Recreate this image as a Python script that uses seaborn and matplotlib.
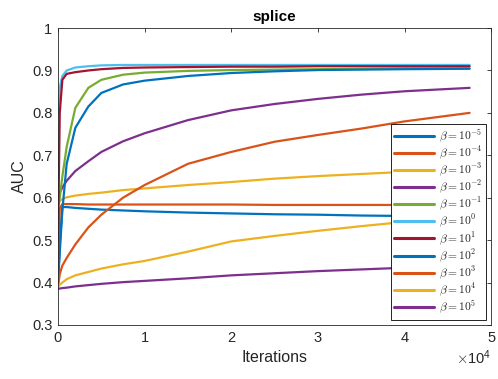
import numpy as np
import pandas as pd
import seaborn as sns
import matplotlib
matplotlib.use('Agg')
import matplotlib.pyplot as plt

# ---------------------------
# Data
# ---------------------------
iters = [0, 0.02, 0.05, 0.1, 0.2, 0.35, 0.5, 0.75, 1, 1.5, 2, 2.5, 3, 3.5, 4, 4.75]  # x 1e4

beta_labels = [r'$\beta = 10^{-5}$', r'$\beta = 10^{-4}$', r'$\beta = 10^{-3}$',
               r'$\beta = 10^{-2}$', r'$\beta = 10^{-1}$', r'$\beta = 10^{0}$',
               r'$\beta = 10^{1}$', r'$\beta = 10^{2}$', r'$\beta = 10^{3}$',
               r'$\beta = 10^{4}$', r'$\beta = 10^{5}$']

auc_m5 = [0.40, 0.49, 0.578, 0.578, 0.576, 0.574, 0.572, 0.570, 0.568, 0.565, 0.563, 0.561, 0.560, 0.558, 0.557, 0.556]
auc_m4 = [0.45, 0.575, 0.585, 0.585, 0.585, 0.584, 0.584, 0.584, 0.584, 0.584, 0.584, 0.583, 0.583, 0.583, 0.583, 0.583]
auc_m3 = [0.58, 0.592, 0.597, 0.601, 0.605, 0.609, 0.612, 0.618, 0.622, 0.630, 0.637, 0.645, 0.651, 0.656, 0.661, 0.665]
auc_m2 = [0.60, 0.612, 0.624, 0.640, 0.663, 0.686, 0.708, 0.733, 0.752, 0.783, 0.806, 0.821, 0.833, 0.843, 0.851, 0.859]
auc_m1 = [0.58, 0.60, 0.65, 0.72, 0.812, 0.859, 0.878, 0.890, 0.895, 0.899, 0.901, 0.902, 0.903, 0.904, 0.905, 0.905]
auc_0 = [0.80, 0.86, 0.887, 0.900, 0.907, 0.910, 0.912, 0.913, 0.913, 0.913, 0.913, 0.913, 0.913, 0.913, 0.913, 0.913]
auc_1 = [0.50, 0.80, 0.878, 0.892, 0.896, 0.900, 0.903, 0.906, 0.907, 0.908, 0.909, 0.909, 0.910, 0.910, 0.910, 0.910]
auc_2 = [0.40, 0.47, 0.57, 0.68, 0.765, 0.815, 0.847, 0.867, 0.876, 0.887, 0.894, 0.898, 0.901, 0.902, 0.903, 0.904]
auc_3 = [0.39, 0.42, 0.44, 0.458, 0.49, 0.53, 0.56, 0.60, 0.63, 0.68, 0.708, 0.732, 0.748, 0.763, 0.780, 0.800]
auc_4 = [0.39, 0.395, 0.40, 0.408, 0.417, 0.425, 0.433, 0.443, 0.451, 0.473, 0.497, 0.510, 0.522, 0.533, 0.543, 0.553]
auc_5 = [0.385, 0.386, 0.387, 0.388, 0.391, 0.394, 0.397, 0.401, 0.404, 0.410, 0.417, 0.422, 0.427, 0.431, 0.435, 0.440]

all_auc = [auc_m5, auc_m4, auc_m3, auc_m2, auc_m1, auc_0, auc_1, auc_2, auc_3, auc_4, auc_5]

matlab_colors = ['#0072BD', '#D95319', '#EDB120', '#7E2F8E', '#77AC30',
                 '#4DBEEE', '#A2142F']
palette = [matlab_colors[i % 7] for i in range(len(beta_labels))]

rows = []
for lab, vals in zip(beta_labels, all_auc):
    for x, y in zip(iters, vals):
        rows.append({'iter': x * 1e4, 'auc': y, 'beta': lab})
df = pd.DataFrame(rows)

# ---------------------------
# Plot
# ---------------------------
sns.set_style('white')
plt.rcParams['font.family'] = ['Liberation Sans', 'DejaVu Sans']
plt.rcParams['mathtext.fontset'] = 'cm'

fig = plt.figure(figsize=(4.98, 3.79), dpi=100)
ax = fig.add_axes([0.1165, 0.1425, 0.87, 0.7835])

sns.lineplot(data=df, x='iter', y='auc', hue='beta', hue_order=beta_labels,
             palette=palette, sort=False, linewidth=1.6, ax=ax)

ax.set_xlim(0, 5e4)
ax.set_ylim(0.3, 1)
ax.set_yticks(np.arange(0.3, 1.01, 0.1))
ax.set_yticklabels(['0.3', '0.4', '0.5', '0.6', '0.7', '0.8', '0.9', '1'])
ax.set_xticks([0, 1e4, 2e4, 3e4, 4e4, 5e4])
ax.ticklabel_format(axis='x', style='sci', scilimits=(0, 0), useMathText=True)

dark = '#262626'
for sp in ax.spines.values():
    sp.set_color(dark)
    sp.set_linewidth(0.6)
ax.tick_params(direction='in', length=3, width=0.6, colors=dark, labelsize=10.5,
               top=True, right=True, labelcolor=dark, pad=4)
ax.xaxis.get_offset_text().set_fontsize(10.5)
ax.xaxis.get_offset_text().set_color(dark)

ax.set_xlabel('Iterations', fontsize=11.5, color=dark, labelpad=4)
ax.set_ylabel('AUC', fontsize=11.5, color=dark, labelpad=4)
ax.set_title('splice', fontsize=11, fontweight='bold', color='black', pad=5)

handles, labels = ax.get_legend_handles_labels()
leg = ax.legend(handles, labels, loc='lower right', fontsize=8.3, frameon=True,
                fancybox=False, framealpha=1, edgecolor='black',
                handlelength=3.5, labelspacing=0.0, borderpad=0.3,
                borderaxespad=0.45, handletextpad=0.4)
leg.get_frame().set_linewidth(0.6)
for h in leg.get_lines():
    h.set_linewidth(2.2)

fig.savefig('out.png', dpi=100)
